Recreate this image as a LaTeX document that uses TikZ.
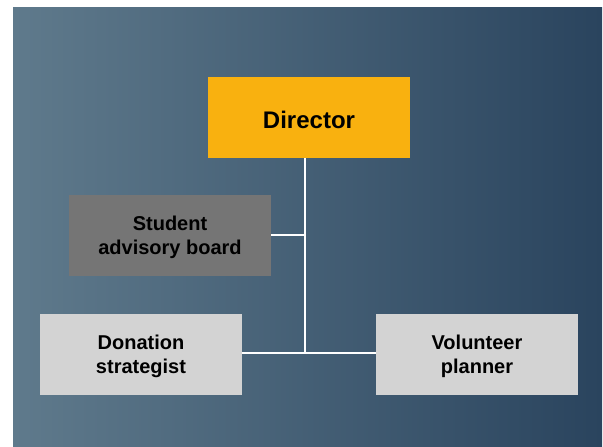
\documentclass[tikz,border=0pt]{standalone}
\usepackage{fontspec}
\setmainfont{Liberation Sans}
\definecolor{bgL}{HTML}{5F7A8C}
\definecolor{bgR}{HTML}{2A445E}
\definecolor{dirc}{HTML}{F9B10F}
\definecolor{stuc}{HTML}{757575}
\definecolor{lowc}{HTML}{D3D3D3}
\begin{document}
\begin{tikzpicture}[x=1pt,y=-1pt,
  box/.style={minimum width=202pt,minimum height=81pt,inner sep=0pt},
  lbl/.style={align=center,inner sep=0pt,yshift=-2pt,font=\bfseries\fontsize{20}{24}\selectfont,text=black},
  conn/.style={draw=white,line width=2pt}]
\useasboundingbox (0,0) rectangle (603,447);
\shade[left color=bgL,right color=bgR] (13,7) rectangle (602,447);
\node[box,fill=dirc,label={[lbl,font=\bfseries\fontsize{24}{28}\selectfont]center:Director}] (dir) at (309,117.5) {};
\node[box,fill=stuc,label={[lbl]center:Student\\advisory board}] (stu) at (170,235) {};
\node[box,fill=lowc,label={[lbl]center:Donation\\strategist}] (don) at (141,354) {};
\node[box,fill=lowc,label={[lbl]center:Volunteer\\planner}] (vol) at (477,354) {};
\coordinate (j1) at (305,235);
\coordinate (j2) at (305,353);
\draw[conn] (dir.south -| j1) -- (j2);
\draw[conn] (stu.east |- j1) -- (j1);
\draw[conn] (don.east |- j2) -- (vol.west |- j2);
\end{tikzpicture}
\end{document}
